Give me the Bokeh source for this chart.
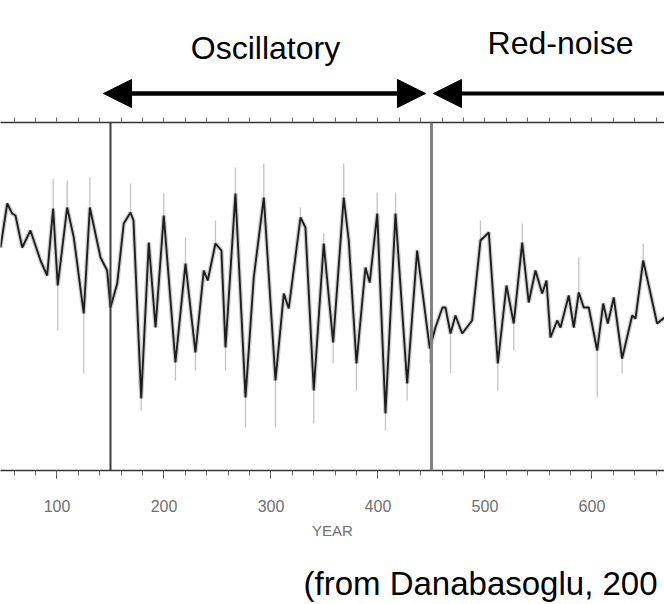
import numpy as np
from bokeh.plotting import figure
from bokeh.layouts import column
from bokeh.models import Range1d, Span, Arrow, NormalHead, LinearAxis, SingleIntervalTicker, FixedTicker
from bokeh.core.properties import value
from bokeh.embed import file_html
from bokeh.resources import INLINE

# ---- data ----
years = [47.2, 53.5, 58.1, 61.2, 67.5, 75.2, 84.6, 90.8, 96.4, 100.7,
         109.5, 115.7, 125.0, 130.7, 140.7, 146.9, 150.0, 156.3, 162.4, 168.7,
         171.5, 178.7, 185.8, 192.1, 199.8, 210.7, 220.1, 229.4, 237.2, 240.9,
         248.1, 253.7, 257.5, 266.8, 276.2, 283.9, 293.3, 304.2, 312.0, 316.6,
         327.6, 332.2, 340.0, 349.3, 358.1, 368.0, 372.7, 379.9, 388.3, 392.3,
         399.3, 407.0, 416.4, 427.3, 436.6, 448.4, 453.7, 460.3, 463.1, 467.8,
         472.4, 478.7, 488.0, 495.8, 503.6, 512.0, 520.1, 526.9, 534.8, 540.9,
         547.2, 553.5, 557.5, 561.2, 567.5, 570.6, 578.3, 583.0, 587.7, 592.3,
         597.0, 604.9, 610.5, 614.8, 620.4, 628.2, 637.6, 640.7, 647.9, 660.9,
         667.8]
smooth = [4.9, 9.3, 8.3, 8.1, 4.9, 6.6, 3.6, 2.1, 8.8, 1.1,
          8.9, 5.9, -1.7, 8.9, 3.9, 2.6, -1.1, 1.3, 7.3, 8.4,
          7.6, -10.2, 5.4, -3.1, 8.1, -6.6, 3.3, -5.6, 2.6, 1.6,
          5.3, 4.6, -5.1, 10.3, -10.1, 1.9, 9.9, -8.4, 0.3, -1.2,
          7.9, 6.9, -9.4, 5.3, -4.6, 9.9, 5.6, -6.7, 2.9, 1.4,
          8.3, -11.7, 8.3, -8.7, 4.6, -5.2, -3.1, -1.1, -1.1, -3.7,
          -1.9, -3.7, -2.4, 5.6, 6.4, -6.7, 1.1, -2.7, 5.4, -0.6,
          2.6, 0.3, 1.6, -4.1, -2.4, -3.1, 0.1, -3.1, 0.4, -1.1,
          -1.1, -5.4, -0.7, -2.7, -0.1, -6.2, -1.9, -2.2, 3.6, -2.7,
          -2.1]

spike_years = [96.4, 100.7, 109.5, 125.0, 130.7, 168.7, 178.7, 199.8, 210.7, 220.1,
               229.4, 248.1, 257.5, 266.8, 276.2, 293.3, 304.2, 327.6, 340.0, 349.3,
               358.1, 368.0, 379.9, 399.3, 407.0, 416.4, 427.3, 448.4, 467.8, 495.8,
               512.0, 526.9, 534.8, 587.7, 604.9, 628.2, 647.9]
spike_tips = [11.8, -3.4, 11.6, -7.7, 11.9, 11.3, -11.4, 10.3, -8.4, 5.9,
              -7.4, 7.6, -7.4, 12.9, -13.1, 13.3, -13.1, 8.9, -12.7, 6.3,
              -6.7, 13.3, -9.4, 10.4, -13.4, 10.4, -10.4, -6.7, -7.7, 7.6,
              -9.4, -5.4, 7.3, 3.9, -10.1, -7.7, 5.3]

regime_bounds = [150, 450]
regime_names = ["Oscillatory", "Red-noise"]
x_label = "YEAR"
caption = "(from Danabasoglu, 200"
top_minor_ticks = list(range(40, 680, 20))

FONT = "Liberation Sans"
W = 664
xr = Range1d(47.2, 667.8)

# ---- top strip: regime labels and arrows ----
top = figure(width=W, height=108, x_range=xr, y_range=Range1d(108, 0),
             output_backend="svg", toolbar_location=None, min_border=0)
top.axis.visible = False
top.grid.visible = False
top.outline_line_color = None

top.text(x=[294.9], y=[47], text=[regime_names[0]], text_font=value(FONT),
         text_font_size="32px", text_align="center", text_baseline="middle", text_color="black")
top.text(x=[570.6], y=[42], text=[regime_names[1]], text_font=value(FONT),
         text_font_size="32px", text_align="center", text_baseline="middle", text_color="black")

def head():
    return NormalHead(size=28, fill_color="black", line_color="black")

top.add_layout(Arrow(x_start=143.5, y_start=93, x_end=444.4, y_end=93,
                     start=head(), end=head(), line_width=4.5, line_color="black"))
top.add_layout(Arrow(x_start=720, y_start=93, x_end=451.9, y_end=93,
                     end=head(), line_width=4, line_color="black"))

# ---- main time-series panel ----
p = figure(width=W, height=438, x_range=xr, y_range=Range1d(-17.4, 17.4),
           output_backend="svg", toolbar_location=None,
           min_border_left=0, min_border_right=0, min_border_top=14, min_border_bottom=76,
           y_axis_location=None)
p.grid.visible = False
p.outline_line_color = None

ax = p.xaxis[0]
ax.ticker = SingleIntervalTicker(interval=100, num_minor_ticks=5)
ax.axis_label = x_label

top_ax = LinearAxis(ticker=FixedTicker(ticks=[], minor_ticks=top_minor_ticks))
p.add_layout(top_ax, "above")

for a in [ax, top_ax]:
    a.axis_line_color = "#333333"
    a.axis_line_width = 1.5
    a.major_tick_line_color = "#444444"
    a.minor_tick_line_color = "#666666"
    a.major_tick_in = 0
    a.major_tick_out = 8
    a.minor_tick_in = 0
    a.minor_tick_out = 5

ax.major_label_text_color = "#707070"
ax.major_label_text_font = FONT
ax.major_label_text_font_size = "16px"
ax.major_label_standoff = 21
ax.axis_label_text_color = "#707070"
ax.axis_label_text_font = FONT
ax.axis_label_text_font_size = "15px"
ax.axis_label_text_font_style = "normal"
ax.axis_label_standoff = 7

spike_base = np.interp(spike_years, years, smooth)
p.segment(x0=spike_years, y0=spike_base, x1=spike_years, y1=spike_tips,
          line_color="#c4c4c4", line_width=1.3)
p.line(years, smooth, line_color="#9a9a9a", line_width=4.5, line_alpha=0.45)
p.line(years, smooth, line_color="#1e1e1e", line_width=1.9)

p.add_layout(Span(location=regime_bounds[0], dimension="height", line_color="#3a3a3a", line_width=2))
p.add_layout(Span(location=regime_bounds[1], dimension="height", line_color="#808080", line_width=3))

# ---- caption strip ----
cap = figure(width=W, height=58, x_range=xr, y_range=Range1d(58, 0),
             output_backend="svg", toolbar_location=None, min_border=0)
cap.axis.visible = False
cap.grid.visible = False
cap.outline_line_color = None
cap.text(x=[330.4], y=[37], text=[caption], text_font=value(FONT), text_font_size="33px",
         text_align="left", text_baseline="middle", text_color="black")

layout = column(top, p, cap)
open("out.html", "w").write(file_html(layout, INLINE))
